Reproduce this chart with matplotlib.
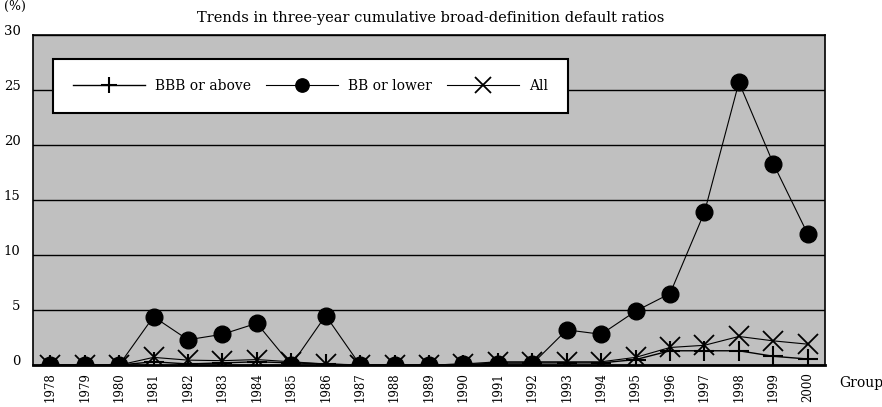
import matplotlib.pyplot as plt
import numpy as np

years = [str(y) for y in range(1978, 2001)]

bbb_above = [0, 0, 0, 0.3, 0.1, 0.2, 0.3, 0.2, 0.1, 0, 0, 0, 0, 0.2, 0.2,
             0.2, 0.2, 0.5, 1.3, 1.3, 1.3, 0.8, 0.55]
bb_lower = [0, 0, 0, 4.4, 2.3, 2.8, 3.8, 0, 4.5, 0, 0, 0, 0.1, 0.1, 0.1,
            3.2, 2.8, 4.9, 6.5, 13.9, 25.7, 18.3, 11.9]
all_ratio = [0, 0, 0, 0.7, 0.45, 0.4, 0.5, 0.3, 0.1, 0, 0, 0, 0.1, 0.3, 0.3,
             0.3, 0.3, 0.7, 1.6, 1.8, 2.6, 2.2, 1.9]

plt.rcParams['font.family'] = ['DejaVu Serif']

fig = plt.figure(figsize=(8.82, 4.07), dpi=100)
ax = fig.add_axes([0.0374, 0.103, 0.898, 0.811])
ax.set_facecolor('#c0c0c0')

x = np.arange(len(years))
ax.plot(x, bbb_above, color='black', lw=1, marker='+', ms=14, mew=1.5,
        label='BBB or above', zorder=3)
ax.plot(x, bb_lower, color='black', lw=0.8, marker='o', ms=12,
        label='BB or lower', zorder=4)
ax.plot(x, all_ratio, color='black', lw=0.8, marker='x', ms=14, mew=1.3,
        label='All', zorder=3)

ax.set_xlim(-0.5, len(years) - 0.5)
ax.set_ylim(0, 30)
ax.set_yticks(range(0, 31, 5))
ax.yaxis.grid(True, color='black', lw=1)
ax.set_axisbelow(True)
ax.set_xticks(x)
ax.set_xticklabels(years, rotation=90, fontsize=8.5)
ax.tick_params(axis='y', length=0, pad=9, labelsize=9.5)
ax.tick_params(axis='x', length=0, pad=5)
for lbl in ax.get_yticklabels():
    lbl.set_verticalalignment('baseline')
for s in ax.spines.values():
    s.set_linewidth(1.2)
ax.spines['bottom'].set_linewidth(2)

leg = ax.legend(loc='upper left', bbox_to_anchor=(0.025, 0.927), ncol=3,
                fancybox=False, framealpha=1, edgecolor='black',
                fontsize=10, handlelength=5.2, handletextpad=0.7,
                markerscale=0.8, borderpad=1.45, borderaxespad=0,
                columnspacing=1.1)
leg.get_frame().set_linewidth(1.5)

fig.text(0.488, 0.956, 'Trends in three-year cumulative broad-definition default ratios',
         ha='center', va='center', fontsize=10.5)
fig.text(0.005, 1.0, '(%)', ha='left', va='top', fontsize=9)
fig.text(0.951, 0.06, 'Group', ha='left', va='center', fontsize=10)

fig.savefig('out.png', dpi=100)
